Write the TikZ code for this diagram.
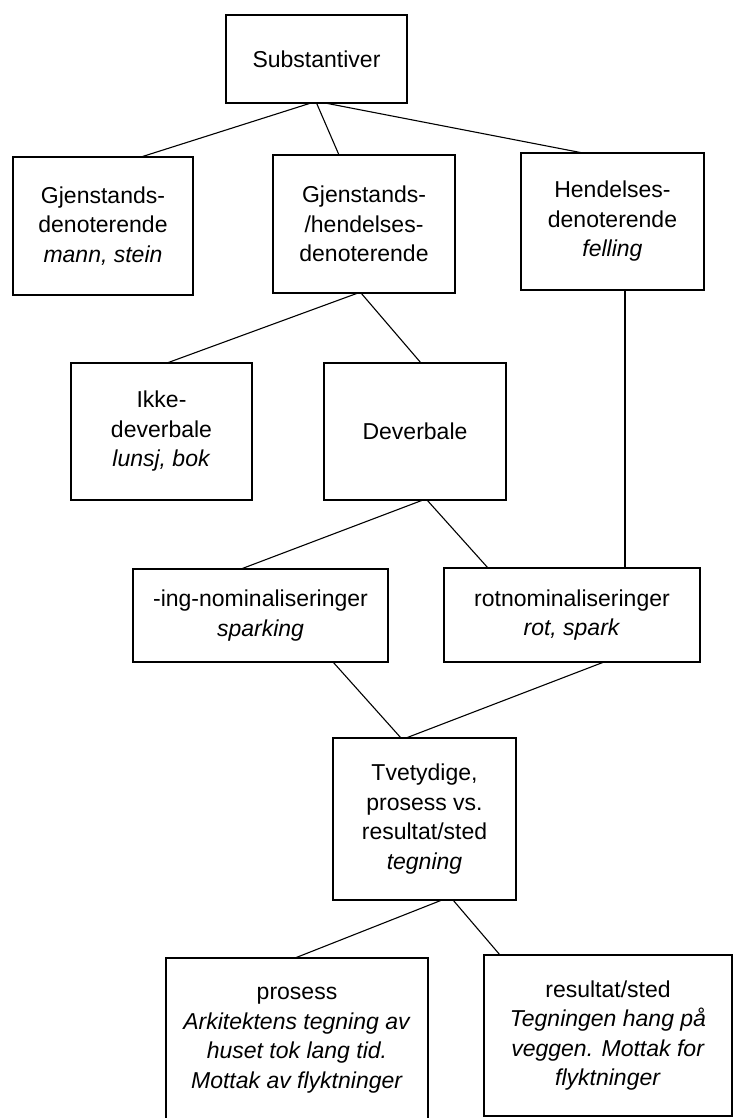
\documentclass[tikz,border=0pt]{standalone}
\usepackage{fontspec}
\setmainfont{Liberation Sans}
\begin{document}
\begin{tikzpicture}[x=1pt,y=-1pt,
  box/.style={draw, line width=1.2pt, inner sep=0pt, outer sep=0pt, align=center,
    font=\fontsize{23}{29.5}\selectfont},
  link/.style={line width=1.1pt}]
\useasboundingbox (0,0) rectangle (736,1118);
\clip (0,0) rectangle (736,1118);
\node[box, minimum width=181pt, minimum height=88pt] (sub) at (316.5,59) {Substantiver};
\node[box, minimum width=180pt, minimum height=138pt] (gj) at (103,226) {Gjenstands-\\denoterende\\\textit{mann, stein}};
\node[box, minimum width=182pt, minimum height=138pt] (gh) at (364,224) {Gjenstands-\\/hendelses-\\denoterende};
\node[box, minimum width=183pt, minimum height=137pt] (hd) at (612.5,221.5) {Hendelses-\\denoterende\\\textit{felling}};
\node[box, minimum width=181pt, minimum height=137pt] (ikke) at (161.5,431.5) {Ikke-\\deverbale\\\textit{lunsj, bok}};
\node[box, minimum width=182pt, minimum height=137pt] (dev) at (415,431.5) {Deverbale};
\node[box, minimum width=255pt, minimum height=93pt] (ing) at (260.5,615.5) {-ing-nominaliseringer\\\textit{sparking}};
\node[box, minimum width=256pt, minimum height=94pt] (rot) at (572,615) {rotnominaliseringer\\\textit{rot, spark}};
\node[box, minimum width=183pt, minimum height=162pt] (tve) at (424.5,819) {Tvetydige,\\prosess vs.\\resultat/sted\\\textit{tegning}};
\node[box, minimum width=262pt, minimum height=164pt] (pro) at (297,1040) {prosess\\\textit{Arkitektens tegning av}\\\textit{huset tok lang tid.}\\\textit{Mottak av flyktninger}};
\node[box, minimum width=248pt, minimum height=161pt] (res) at (608,1035.5) {resultat/sted\\\textit{Tegningen hang på}\\\textit{veggen. Mottak for}\\\textit{flyktninger}};
\draw[link] ([xshift=-5.5pt]sub.south) -- ([xshift=38pt]gj.north);
\draw[link] (sub.south) -- ([xshift=-25pt]gh.north);
\draw[link] ([xshift=8.5pt]sub.south) -- ([xshift=-29.5pt]hd.north);
\draw[link] ([xshift=-6pt]gh.south) -- ([xshift=5.5pt]ikke.north);
\draw[link] ([xshift=-3pt]gh.south) -- ([xshift=6pt]dev.north);
\draw[link] ([xshift=12.5pt]hd.south) -- ([xshift=53pt]rot.north);
\draw[link] ([xshift=8pt]dev.south) -- ([xshift=-19.5pt]ing.north);
\draw[link] ([xshift=12pt]dev.south) -- ([xshift=-84pt]rot.north);
\draw[link] ([xshift=72.5pt]ing.south) -- ([xshift=-23.5pt]tve.north);
\draw[link] ([xshift=32pt]rot.south) -- ([xshift=-18.5pt]tve.north);
\draw[link] ([xshift=17.5pt]tve.south) -- ([xshift=-2pt]pro.north);
\draw[link] ([xshift=28.5pt]tve.south) -- ([xshift=-108pt]res.north);
\end{tikzpicture}
\end{document}
